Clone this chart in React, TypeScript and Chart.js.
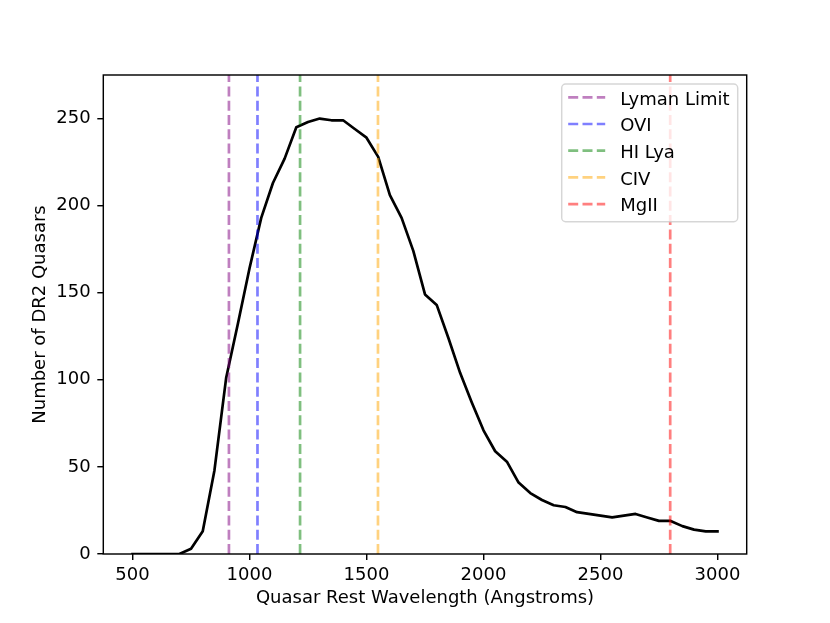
import { useEffect, useRef } from "react";
import Chart from "chart.js/auto";

const wavelengths = [
  500, 550, 600, 650, 700, 750, 800, 850, 900, 950, 1000, 1050, 1100, 1150,
  1200, 1250, 1300, 1350, 1400, 1450, 1500, 1550, 1600, 1650, 1700, 1750, 1800,
  1850, 1900, 1950, 2000, 2050, 2100, 2150, 2200, 2250, 2300, 2350, 2400, 2450,
  2500, 2550, 2600, 2650, 2700, 2750, 2800, 2850, 2900, 2950, 3000,
];
const quasarCounts = [
  0, 0, 0, 0, 0, 3, 13, 48, 101, 132, 164, 193, 213, 227, 245, 248, 250, 249,
  249, 244, 239, 228, 206, 193, 174, 149, 143, 124, 104, 87, 71, 59, 53, 41, 35,
  31, 28, 27, 24, 23, 22, 21, 22, 23, 21, 19, 19, 16, 14, 13, 13,
];

const lineNames = ["Lyman Limit", "OVI", "HI Lya", "CIV", "MgII"];
const lineWavelengths = [912, 1034, 1216, 1549, 2798];
const lineColors = [
  "rgba(128,0,128,0.5)",
  "rgba(0,0,255,0.5)",
  "rgba(0,128,0,0.5)",
  "rgba(255,165,0,0.5)",
  "rgba(255,0,0,0.5)",
];

const xTicks = [500, 1000, 1500, 2000, 2500, 3000];
const yTicks = [0, 50, 100, 150, 200, 250];

const FONT = "DejaVu Sans";
const DASH = [10, 4.3];

// spines on all four sides, drawn above the lines
const framePlugin = {
  id: "frame",
  afterDatasetsDraw(chart: any) {
    const { ctx, chartArea } = chart;
    ctx.save();
    ctx.strokeStyle = "#000";
    ctx.lineWidth = 1.44;
    ctx.strokeRect(
      chartArea.left,
      chartArea.top,
      chartArea.right - chartArea.left,
      chartArea.bottom - chartArea.top
    );
    ctx.restore();
  },
};

// matplotlib style legend in the upper right corner
const legendPlugin = {
  id: "mplLegend",
  afterDraw(chart: any) {
    const { ctx, chartArea } = chart;
    const boxRight = chartArea.right - 9;
    const boxTop = chartArea.top + 9;
    const boxW = 176;
    const rowH = 26.7;
    const boxH = 137.7;
    const x0 = boxRight - boxW;
    ctx.save();
    ctx.beginPath();
    ctx.roundRect(x0, boxTop, boxW, boxH, 4);
    ctx.fillStyle = "rgba(255,255,255,0.8)";
    ctx.fill();
    ctx.strokeStyle = "rgba(204,204,204,0.8)";
    ctx.lineWidth = 1.44;
    ctx.stroke();

    ctx.font = `18px "${FONT}"`;
    ctx.textBaseline = "alphabetic";
    ctx.textAlign = "left";
    lineNames.forEach((name, i) => {
      const y = boxTop + 13.3 + i * rowH;
      ctx.beginPath();
      ctx.setLineDash(DASH);
      ctx.strokeStyle = lineColors[i];
      ctx.lineWidth = 2.7;
      ctx.moveTo(x0 + 6.5, y);
      ctx.lineTo(x0 + 43.5, y);
      ctx.stroke();
      ctx.setLineDash([]);
      ctx.fillStyle = "#000";
      ctx.fillText(name, x0 + 58.5, y + 7.2);
    });
    ctx.restore();
  },
};

export default function App() {
  const canvasRef = useRef<HTMLCanvasElement>(null);
  const chartRef = useRef<Chart | null>(null);

  useEffect(() => {
    if (!canvasRef.current) return;

    const curve = {
      label: "quasars",
      data: wavelengths.map((w, i) => ({ x: w, y: quasarCounts[i] })),
      borderColor: "#000",
      borderWidth: 2.7,
      borderJoinStyle: "round" as const,
      borderCapStyle: "square" as const,
      pointRadius: 0,
      tension: 0,
      fill: false,
      order: 1,
    };

    const vlines = lineWavelengths.map((w, i) => ({
      label: lineNames[i],
      data: [
        { x: w, y: 0 },
        { x: w, y: 275 },
      ],
      borderColor: lineColors[i],
      borderWidth: 2.7,
      borderDash: DASH,
      pointRadius: 0,
      fill: false,
      order: 0,
    }));

    chartRef.current = new Chart(canvasRef.current, {
      type: "line",
      data: { datasets: [curve, ...vlines] as any },
      options: {
        responsive: false,
        animation: false,
        layout: { padding: { left: 0, top: 75, right: 83.3, bottom: 0 } },
        plugins: {
          legend: { display: false },
          tooltip: { enabled: false },
        },
        scales: {
          x: {
            type: "linear",
            min: 375,
            max: 3125,
            afterBuildTicks: (scale: any) => {
              scale.ticks = xTicks.map((v) => ({ value: v }));
            },
            afterFit: (scale: any) => {
              scale.height = 69;
            },
            grid: {
              drawOnChartArea: false,
              drawTicks: true,
              tickLength: 6,
              color: "#000",
              lineWidth: 1.44,
            },
            border: { display: false },
            ticks: {
              color: "#000",
              padding: 4.7,
              maxRotation: 0,
              autoSkip: false,
              callback: (v: any) => String(v),
              font: { family: FONT, size: 18, lineHeight: 1.2 },
            },
            title: {
              display: true,
              text: "Quasar Rest Wavelength (Angstroms)",
              color: "#000",
              font: { family: FONT, size: 18, lineHeight: 1.2 },
              padding: { top: 0, bottom: 13.6 },
            },
          },
          y: {
            type: "linear",
            min: 0,
            max: 275,
            afterBuildTicks: (scale: any) => {
              scale.ticks = yTicks.map((v) => ({ value: v }));
            },
            afterFit: (scale: any) => {
              scale.width = 103.3;
            },
            grid: {
              drawOnChartArea: false,
              drawTicks: true,
              tickLength: 6,
              color: "#000",
              lineWidth: 1.44,
            },
            border: { display: false },
            ticks: {
              color: "#000",
              padding: 6.6,
              autoSkip: false,
              callback: (v: any) => String(v),
              font: { family: FONT, size: 18, lineHeight: 1.2 },
            },
            title: {
              display: true,
              text: "Number of DR2 Quasars",
              color: "#000",
              font: { family: FONT, size: 18, lineHeight: 1.2 },
              padding: { top: 29.7, bottom: 0 },
            },
          },
        },
      },
      plugins: [framePlugin, legendPlugin],
    });

    return () => {
      if (chartRef.current) {
        chartRef.current.destroy();
        chartRef.current = null;
      }
    };
  }, []);

  return (
    <div
      style={{
        position: "absolute",
        left: 0,
        top: 0,
        width: "830px",
        height: "623px",
        background: "#fff",
      }}
    >
      <canvas
        ref={canvasRef}
        width={830}
        height={623}
        style={{ width: "830px", height: "623px" }}
      />
    </div>
  );
}
